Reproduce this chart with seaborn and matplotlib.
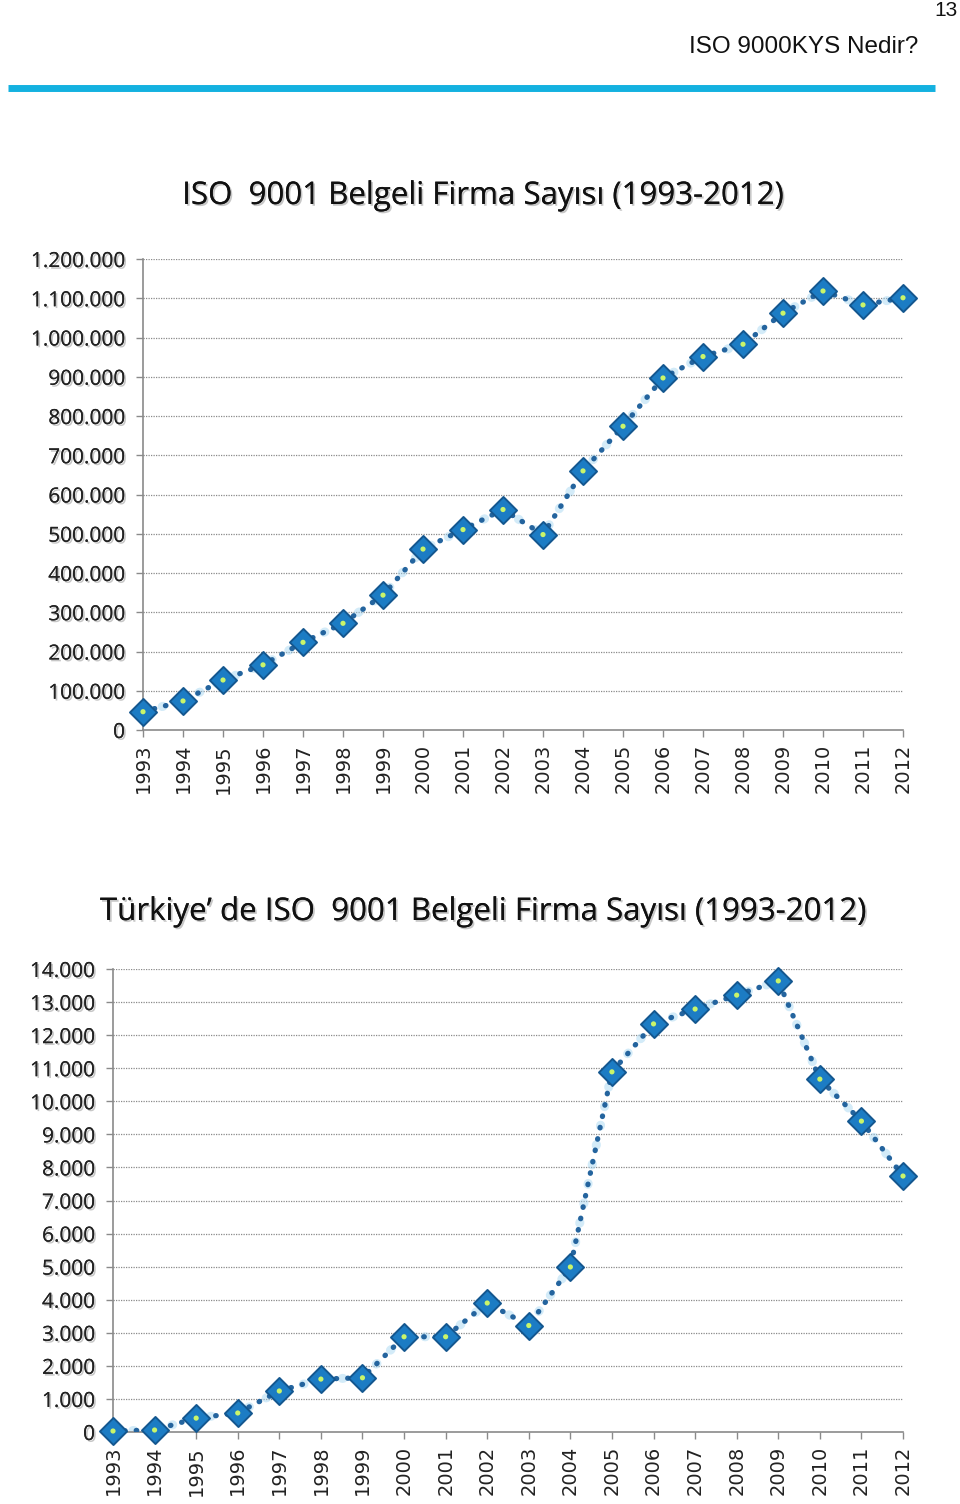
import numpy as np
import pandas as pd
import matplotlib
matplotlib.use("Agg")
import matplotlib.pyplot as plt
import matplotlib.patheffects as pe
from matplotlib.ticker import FuncFormatter
import seaborn as sns

# ---- data ----
years = list(range(1993, 2013))
world_counts = [46571, 74000, 127349, 166000, 223299, 271847, 343643, 461000,
                510616, 561747, 497919, 660132, 773867, 896929, 951486, 982832,
                1062000, 1118510, 1083000, 1101272]
turkey_counts = [30, 60, 420, 575, 1240, 1600, 1640, 2880, 2880, 3900, 3220,
                 4990, 10890, 12340, 12790, 13210, 13640, 10670, 9400, 7740]
world_yticks = list(range(0, 1200001, 100000))
turkey_yticks = list(range(0, 14001, 1000))

title_world = "ISO  9001 Belgeli Firma Sayısı (1993-2012)"
title_turkey = "Türkiye’ de ISO  9001 Belgeli Firma Sayısı (1993-2012)"
header_text = "ISO 9000KYS Nedir?"
page_number = "13"

sns.set_theme(style="white")
plt.rcParams['font.family'] = ['Open Sans', 'DejaVu Sans']

fig = plt.figure(figsize=(9.6, 15.04), dpi=100)
fig.patch.set_facecolor("white")

# header
fig.text(958 / 960, 1 - 10 / 1504, page_number, ha="right", va="center",
         fontsize=15, family=['Liberation Sans Narrow', 'Liberation Sans'], color="#111")
fig.text(918 / 960, 1 - 47 / 1504, header_text, ha="right", va="center",
         fontsize=17.5, family=['Liberation Sans Narrow', 'Liberation Sans'], color="#111")
fig.add_artist(plt.Line2D([8 / 960, 935 / 960], [1 - 88 / 1504, 1 - 88 / 1504],
                          color="#14b1e0", lw=5, solid_capstyle="butt",
                          transform=fig.transFigure))

shadow = [pe.withSimplePatchShadow(offset=(1.3, -1.3), shadow_rgbFace="#9a9a9a", alpha=0.55),
          pe.Normal()]

def fmt(v, pos):
    return f"{v:,.0f}".replace(",", ".")

def draw(ax, values, yticks, title, title_y):
    df = pd.DataFrame({"year": years, "count": values})
    ax.grid(False)
    for t in yticks[1:]:
        ax.axhline(t, color="#8a8a8a", lw=0.9, ls=(0, (1, 1)), zorder=0)
    sns.lineplot(data=df, x="year", y="count", ax=ax, color="#9fd3f0",
                 lw=6.5, alpha=0.45, zorder=2)
    sns.lineplot(data=df, x="year", y="count", ax=ax, color="#24649e", lw=3.8, zorder=3)
    for ln in ax.lines[-2:]:
        ln.set_linestyle((0, (0.1, 2.1)))
        ln.set_dash_capstyle("round")
    sns.scatterplot(data=df, x="year", y="count", ax=ax, marker="D", s=190,
                    color="#1c7cc4", edgecolor="#14578f", linewidth=1.4, zorder=4, clip_on=False)
    sns.scatterplot(data=df, x="year", y="count", ax=ax, marker="o", s=14,
                    color="#c9f56a", edgecolor="none", zorder=5, clip_on=False)
    ax.set_xlim(years[0], years[-1])
    ax.set_ylim(yticks[0], yticks[-1])
    ax.set_xticks(years)
    ax.set_xticklabels([str(y) for y in years], rotation=90, fontsize=14,
                       color="#222", family="DejaVu Sans")
    ax.set_yticks(yticks)
    ax.yaxis.set_major_formatter(FuncFormatter(fmt))
    for lbl in ax.get_yticklabels():
        lbl.set_fontsize(15)
        lbl.set_color("#222")
        lbl.set_path_effects(shadow)
    ax.set_xlabel("")
    ax.set_ylabel("")
    for s in ["top", "right"]:
        ax.spines[s].set_visible(False)
    for s in ["left", "bottom"]:
        ax.spines[s].set_color("#8a8a8a")
        ax.spines[s].set_linewidth(1.2)
    ax.tick_params(axis="y", which="major", direction="out", length=5, width=1,
                   color="#8a8a8a", left=True, pad=8)
    ax.tick_params(axis="x", which="major", direction="out", length=5, width=1,
                   color="#8a8a8a", bottom=True, pad=5)
    fig.text(0.503, title_y, title, ha="center", va="center", fontsize=22.5,
             color="#111", path_effects=shadow)

ax1 = fig.add_axes([143 / 960, 1 - 730 / 1504, 760 / 960, 471 / 1504])
draw(ax1, world_counts, world_yticks, title_world, 1 - 196 / 1504)

ax2 = fig.add_axes([113 / 960, 1 - 1432 / 1504, 790 / 960, 463 / 1504])
draw(ax2, turkey_counts, turkey_yticks, title_turkey, 1 - 912 / 1504)

fig.savefig("out.png", dpi=100, facecolor="white")
